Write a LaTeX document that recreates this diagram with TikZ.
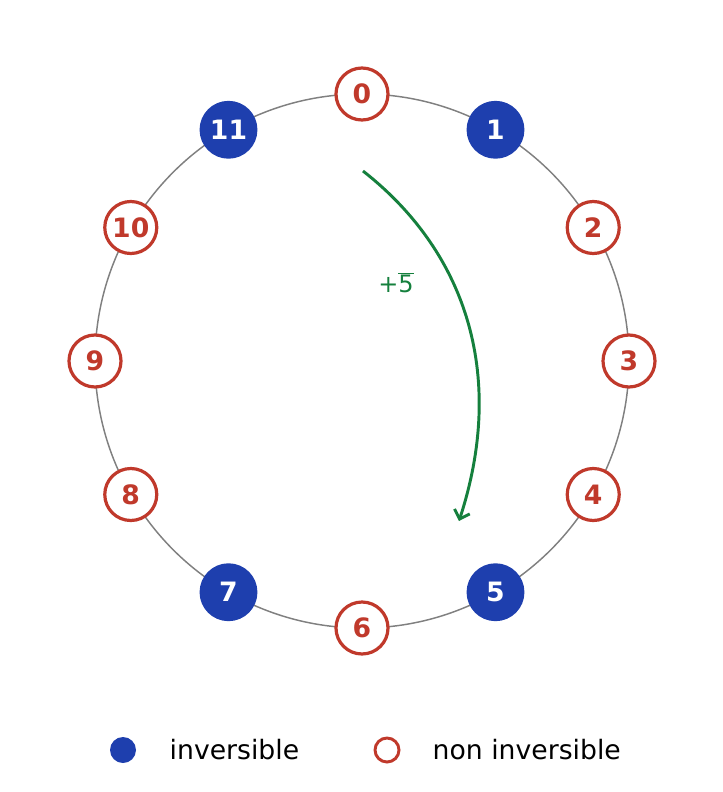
\documentclass[tikz,border=0pt]{standalone}
\usepackage{fontspec}
\setmainfont{DejaVu Sans}
\usetikzlibrary{positioning,arrows.meta,calc}
\definecolor{invblue}{HTML}{1E3FAE}
\definecolor{nonred}{HTML}{C0392B}
\definecolor{stepgreen}{HTML}{15803D}
\tikzset{
  inv/.style={circle, fill=invblue, draw=invblue, line width=2.4pt, minimum size=41pt, inner sep=0pt, text=white, font=\fontsize{20}{20}\selectfont\bfseries},
  noninv/.style={circle, fill=white, draw=nonred, line width=2.4pt, minimum size=39pt, inner sep=0pt, text=nonred, font=\fontsize{20}{20}\selectfont\bfseries},
  legend/.style={font=\fontsize{20}{20}\selectfont, anchor=west}
}
\begin{document}
\begin{tikzpicture}[x=0.75pt, y=-0.75pt]
    \useasboundingbox (0,0) rectangle (723,792);
    \coordinate (centre) at (362,361);
    % the ring
    \draw[gray, line width=1.1pt] (centre) circle[radius=267*0.75pt];
    % residues mod 12
    \foreach \k in {0,...,11} {
        \pgfmathsetmacro{\ang}{90-30*\k}
        \ifnum\k=1 \def\sty{inv}\else\ifnum\k=5 \def\sty{inv}\else\ifnum\k=7 \def\sty{inv}\else\ifnum\k=11 \def\sty{inv}\else\def\sty{noninv}\fi\fi\fi\fi
        \node (r\k) [\sty] at ($(centre)+(\ang:267*0.75pt)$) {\k};
    }
    % the step
    \coordinate (from) at (363,171);
    \coordinate (to) at (459,521);
    \draw[stepgreen, line width=2.2pt, -{Straight Barb[length=6pt]}]
        (from) .. controls (470,255) and (505,380) .. (to);
    \node (step) [text=stepgreen, font=\fontsize{18}{18}\selectfont] at (396,283) {+$\overline{\hbox{5}}$};
    % legend
    \node (keyinv) [circle, fill=invblue, minimum size=19.5pt, inner sep=0pt] at (123,750) {};
    \node (txtinv) [legend] at (165,750) {inversible};
    \node (keynon) [circle, draw=nonred, line width=2.2pt, minimum size=18pt, inner sep=0pt] at (387,750) {};
    \node (txtnon) [legend] at (428,750) {non inversible};
\end{tikzpicture}
\end{document}
